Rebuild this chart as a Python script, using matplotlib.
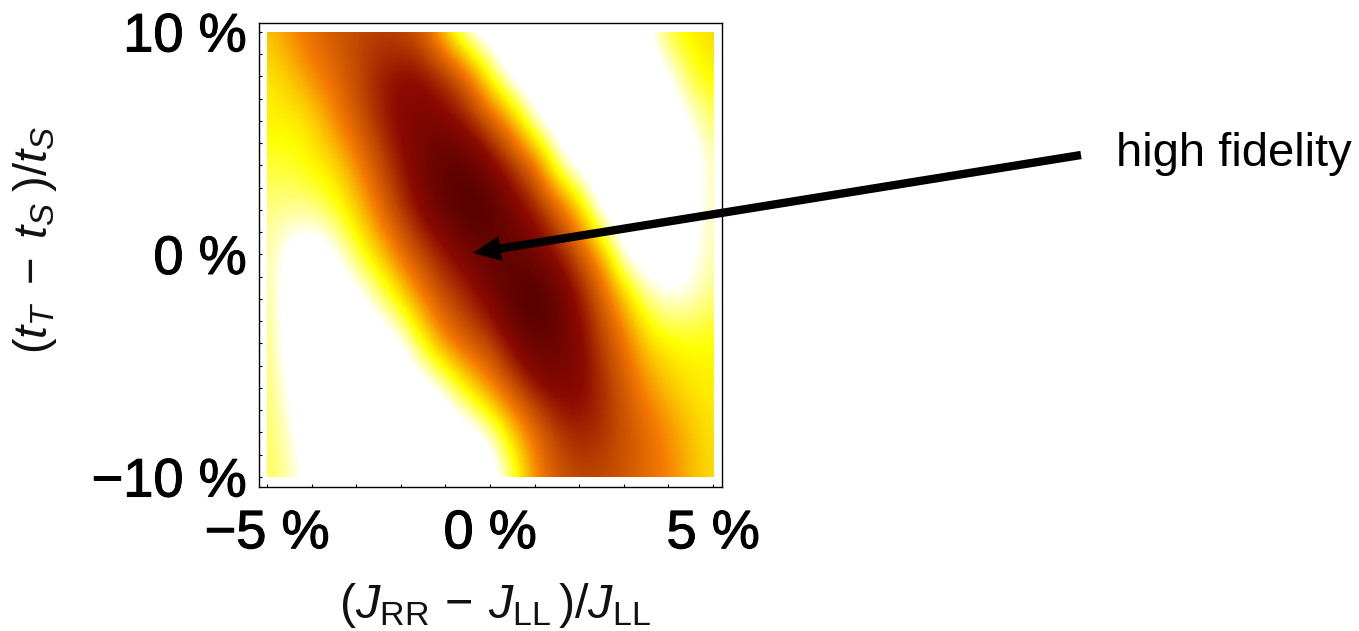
import numpy as np
import matplotlib
matplotlib.use("Agg")
import matplotlib.pyplot as plt
import matplotlib.patheffects as pe
from matplotlib.colors import LinearSegmentedColormap
from matplotlib.patches import Rectangle

plt.rcParams['font.family'] = ['Liberation Sans', 'DejaVu Sans']
plt.rcParams['mathtext.fontset'] = 'custom'
plt.rcParams['mathtext.rm'] = 'Liberation Sans'
plt.rcParams['mathtext.it'] = 'Liberation Sans:italic'
plt.rcParams['mathtext.bf'] = 'Liberation Sans:bold'

x_values = [-5, -4.5, -4, -3.5, -3, -2.5, -2, -1.5, -1, -0.5, 0, 0.5, 1, 1.5, 2, 2.5, 3, 3.5, 4, 4.5, 5]
y_values = [10, 8, 6, 4, 2, 0, -2, -4, -6, -8, -10]
x_minor_ticks = [-5, -4, -3, -2, -1, 0, 1, 2, 3, 4, 5]
y_minor_ticks = list(range(-10, 11))
fidelity = [
    [.33, .42, .50, .56, .60, .62, .60, .52, .27, .02, 0, 0, 0, 0, 0, 0, 0, .03, .22, .26, .30],
    [.26, .32, .42, .50, .60, .70, .76, .74, .65, .50, .18, 0, 0, 0, 0, 0, 0, 0, .05, .20, .25],
    [.25, .25, .28, .42, .55, .68, .78, .82, .78, .70, .55, .35, .05, 0, 0, 0, 0, 0, 0, .08, .17],
    [.20, .20, .25, .28, .42, .58, .72, .85, .95, .90, .80, .65, .50, .12, 0, 0, 0, 0, 0, 0, .13],
    [.15, .14, .14, .20, .30, .48, .65, .78, .90, 1.0, .95, .82, .70, .55, .30, 0, 0, 0, 0, .04, .13],
    [.14, .04, 0, .04, .18, .30, .48, .62, .72, .82, .92, .90, .85, .72, .58, .35, .03, 0, 0, .05, .13],
    [.15, .02, 0, 0, .02, .12, .26, .45, .60, .68, .80, .95, 1.0, .90, .72, .55, .33, .14, .08, .10, .16],
    [.17, .02, 0, 0, 0, 0, .03, .22, .42, .55, .62, .78, .90, .88, .78, .62, .48, .30, .25, .23, .24],
    [.18, .05, 0, 0, 0, 0, 0, 0, .08, .25, .42, .58, .72, .80, .78, .68, .55, .42, .32, .27, .25],
    [.18, .10, 0, 0, 0, 0, 0, 0, 0, 0, .08, .30, .48, .63, .70, .66, .58, .50, .42, .33, .27],
    [.18, .13, .03, 0, 0, 0, 0, 0, 0, 0, 0, .15, .42, .55, .60, .60, .56, .50, .44, .35, .28],
]
x_tick_labels = ['\u22125 %', '0 %', '5 %']
y_tick_labels = ['\u221210 %', '0 %', '10 %']
x_label = r'$(J_{\mathrm{RR}}\,-\,J_{\mathrm{LL}}\,)/J_{\mathrm{LL}}$'
y_label = r'$(t_{T}\;-\;t_{S}\;)/t_{S}$'
note = 'high fidelity'

cmap = LinearSegmentedColormap.from_list('fid', [
    (0.00, '#ffffff'), (0.07, '#ffffff'), (0.23, '#ffff00'), (0.45, '#f57a00'),
    (0.60, '#c04a00'), (0.75, '#8b0a00'), (1.00, '#4a0000')])

W, H = 1359, 631
fig = plt.figure(figsize=(W / 100, H / 100), dpi=100)
ax = fig.add_axes([259 / W, 1 - 487 / H, (722 - 259) / W, (487 - 23) / H])

dx, dy = 0.25, 1.0
im = ax.imshow(np.array(fidelity), cmap=cmap, vmin=0, vmax=1, aspect='auto',
               interpolation='bicubic',
               extent=[x_values[0] - dx, x_values[-1] + dx,
                       y_values[-1] - dy, y_values[0] + dy])
im.set_clip_path(Rectangle((x_values[0], y_values[-1]),
                           x_values[-1] - x_values[0], y_values[0] - y_values[-1],
                           transform=ax.transData))
ax.set_xlim(-5.18, 5.2)
ax.set_ylim(-10.45, 10.4)

ax.set_xticks([-5, 0, 5], x_tick_labels)
ax.set_yticks([-10, 0, 10], y_tick_labels)
ax.set_xticks(x_minor_ticks, minor=True)
ax.set_yticks(y_minor_ticks, minor=True)
ax.tick_params(which='both', direction='in', length=2.4, width=0.8, top=False, right=False)
ax.tick_params(axis='x', pad=16)
ax.tick_params(axis='y', pad=9)
for lab in ax.get_xticklabels() + ax.get_yticklabels():
    lab.set_fontsize(39)
    lab.set_path_effects([pe.withStroke(linewidth=0.8, foreground='black')])
for s in ax.spines.values():
    s.set_linewidth(1.0)

fig.text(495 / W, 1 - 606 / H, x_label, fontsize=35, ha='center', va='center', color='#111111')
fig.text(35 / W, 1 - 240 / H, y_label, fontsize=34, ha='center', va='center',
         rotation=90, color='#111111')

ax.annotate('', xy=(473 / W, 1 - 253 / H), xycoords='figure fraction',
            xytext=(1081 / W, 1 - 155 / H), textcoords='figure fraction',
            arrowprops=dict(arrowstyle='simple,head_length=2.0,head_width=1.8,tail_width=0.6',
                            mutation_scale=10, lw=0, color='black', shrinkA=0, shrinkB=0))
fig.text(1116 / W, 1 - 154 / H, note, fontsize=34, ha='left', va='center', color='black')

fig.savefig('out.png', dpi=100)
